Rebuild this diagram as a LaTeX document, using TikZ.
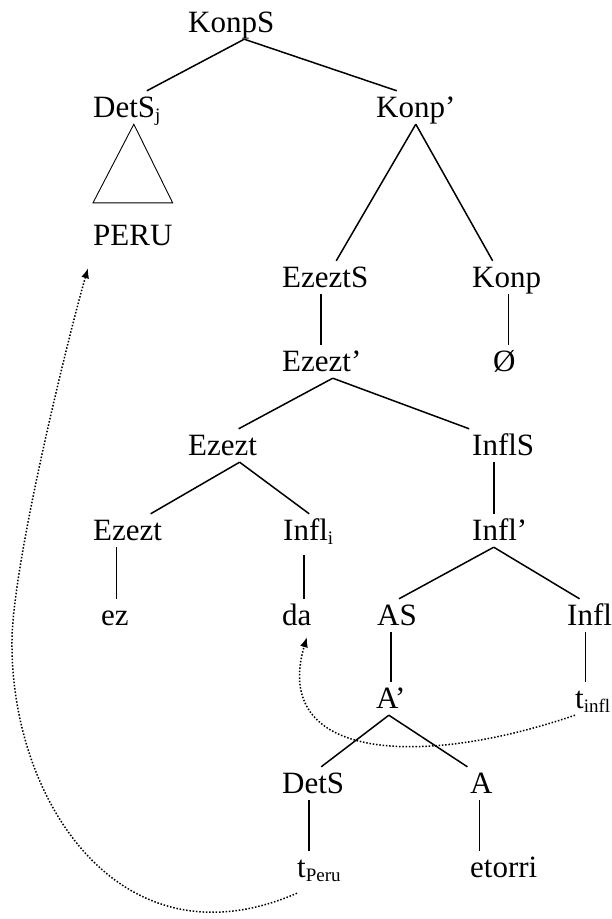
\documentclass[tikz,border=0pt]{standalone}
\usepackage{fontspec}
\setmainfont{Liberation Serif}
\usetikzlibrary{arrows.meta}
\newcommand\treefont{\fontsize{31}{37}\selectfont}
\newcommand\lowtext[1]{\raisebox{-4pt}{\fontsize{19}{22}\selectfont #1}}
\begin{document}
\begin{tikzpicture}[x=1pt, y=-1pt,
    every node/.style={font=\treefont},
    cat/.style={anchor=base west, inner xsep=0pt, inner ysep=5pt, text height=21pt, text depth=2pt},
    edge/.style={line width=1.5pt},
    move/.style={line width=1.5pt, dash pattern=on 1.5pt off 1.8pt, -{Latex[length=10pt,width=8pt]}}]
    \useasboundingbox (0,0) rectangle (611,919);

    % categories, top to bottom
    \node[cat] (konps)  at (188,32)  {KonpS};
    \node[cat] (detsj)  at (93,117)  {DetS\lowtext{j}};
    \node[cat] (konpb)  at (376,117) {Konp’};
    \node[cat] (peru)   at (93,245)  {PERU};
    \node[cat] (ezezts) at (282,287) {EzeztS};
    \node[cat] (konp)   at (472,287) {Konp};
    \node[cat] (ezeztb) at (282,371) {Ezezt’};
    \node[cat] (nul)    at (493,371) {Ø};
    \node[cat] (ezezt)  at (188,455) {Ezezt};
    \node[cat] (infls)  at (472,455) {InflS};
    \node[cat] (ezeztl) at (93,540)  {Ezezt};
    \node[cat, text depth=10pt] (infli) at (283,540) {Infl\lowtext{i}};
    \node[cat] (inflb)  at (472,540) {Infl’};
    \node[cat] (ez)     at (101,625) {ez};
    \node[cat] (da)     at (282,625) {da};
    \node[cat] (as)     at (377,625) {AS};
    \node[cat] (infl)   at (567,625) {Infl};
    \node[cat] (ab)     at (376,708) {A’};
    \node[cat] (tinfl)  at (575,708) {t\lowtext{infl}};
    \node[cat] (dets)   at (282,793) {DetS};
    \node[cat] (a)      at (470,793) {A};
    \node[cat] (tperu)  at (297,877) {t\lowtext{Peru}};
    \node[cat] (etorri) at (470,877) {etorri};

    % branching edges
    \foreach \p/\px/\c/\cx in {konps/13/detsj/20, konps/13/konpb/-19,
        konpb/0/ezezts/11, konpb/0/konp/-14,
        ezeztb/11/ezezt/16, ezeztb/11/infls/-34,
        ezezt/17/ezeztl/23, ezezt/17/infli/1,
        inflb/-6/as/2, inflb/-6/infl/-10,
        ab/-2/dets/8, ab/-2/a/-14}
      \draw[edge] ([xshift=\px pt]\p.south) -- ([xshift=\cx pt]\c.north);

    % unary edges
    \foreach \p/\px/\c in {ezezts/-4/ezeztb, konp/2/nul, infls/-9/inflb,
        ezeztl/-11/ez, infli/-4/da, as/-6/ab, infl/-4/tinfl,
        dets/-4/tperu, a/-2/etorri}
      \draw[edge] ([xshift=\px pt]\p.south) -- ([xshift=\px pt]\p.south |- \c.north);

    % triangle over PERU
    \draw[line width=0.9pt] ([xshift=7pt]detsj.south) -- ([yshift=16pt]peru.north west)
      -- ([yshift=16pt]peru.north east) -- cycle;

    % movement
    \draw[move] (tinfl.south west) .. controls +(-155,53) and +(-36,123)
      .. ([xshift=10pt,yshift=-5pt]da.south);
    \draw[move] ([yshift=-9pt]tperu.south west) .. controls (120,970) and (10,800)
      .. (12,640) .. controls (13,560) and (70,330) .. ([xshift=-5pt,yshift=-16pt]peru.south west);
  \end{tikzpicture}
\end{document}
